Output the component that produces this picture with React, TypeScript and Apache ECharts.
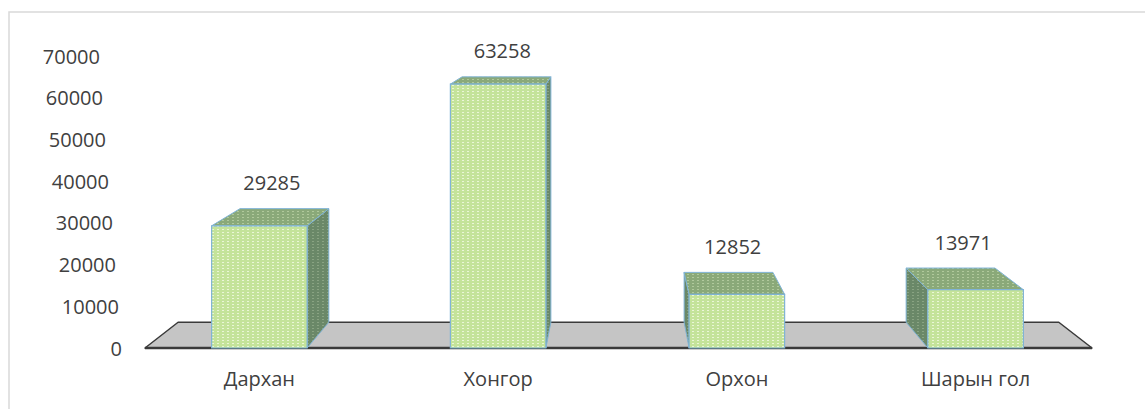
import React, { useEffect, useRef } from "react";
import * as echarts from "echarts";

const categories = ["Дархан", "Хонгор", "Орхон", "Шарын гол"];
const values = [29285, 63258, 12852, 13971];
const yTicks = [0, 10000, 20000, 30000, 40000, 50000, 60000, 70000];

const K = 0.07;
const VY = -20;
const FONT = "'Open Sans', sans-serif";
const TEXT = "#404040";

function makePattern(base: string, dot: string, w: number, h: number) {
  try {
    const c = document.createElement("canvas");
    c.width = w;
    c.height = h;
    const ctx = c.getContext("2d");
    if (!ctx) return base;
    ctx.fillStyle = base;
    ctx.fillRect(0, 0, w, h);
    ctx.fillStyle = dot;
    ctx.fillRect(2, 1, 2, 1);
    return { image: c, repeat: "repeat" } as any;
  } catch (e) {
    return base;
  }
}

export default function App() {
  const ref = useRef<HTMLDivElement>(null);
  useEffect(() => {
    if (!ref.current) return;
    const chart = echarts.init(ref.current, undefined, { renderer: "svg" });
    const frontFill = makePattern("#c4e39a", "#eaf6d6", 5, 3);
    const topFill = makePattern("#8aa979", "#b0c99c", 5, 3);
    const sideFill = makePattern("#6a8868", "#89a383", 5, 3);
    const rich: any = {};
    yTicks.forEach((t, i) => {
      rich["p" + i] = {
        fontSize: 20,
        fontFamily: FONT,
        color: TEXT,
        padding: [0, Math.round((22 * t) / 70000), 0, 0],
      };
    });

    const back = (p: number[], vx: number) => [p[0] + K * (vx - p[0]), p[1] + K * (VY - p[1])];

    chart.setOption({
      animation: false,
      grid: { left: 140, right: 50, top: 56, bottom: 61 },
      graphic: [
        {
          type: "rect",
          shape: { x: 9, y: 12, width: 1160, height: 420 },
          style: { fill: "none", stroke: "#d9d9d9", lineWidth: 1.5 },
          z: -10,
        },
      ],
      xAxis: {
        type: "category",
        data: categories,
        axisLine: { show: false },
        axisTick: { show: false },
        axisLabel: { fontSize: 20, fontFamily: FONT, color: TEXT, margin: 20 },
      },
      yAxis: {
        type: "value",
        min: 0,
        max: 70000,
        interval: 10000,
        splitLine: { show: false },
        axisLine: { show: false },
        axisTick: { show: false },
        axisLabel: {
          margin: 18,
          formatter: (v: number) => {
            const i = yTicks.indexOf(v);
            return `{p${i}|${v}}`;
          },
          rich,
        },
      },
      series: [
        {
          type: "custom",
          z: 1,
          data: [[0, 0]],
          encode: { x: 0, y: 1 },
          silent: true,
          renderItem: (params: any, api: any) => {
            const cs = params.coordSys;
            const vx = cs.x + cs.width / 2;
            const y0 = cs.y + cs.height;
            const fl = [cs.x + 5, y0];
            const fr = [cs.x + cs.width - 3, y0];
            const bl = back(fl, vx);
            const br = back(fr, vx);
            return {
              type: "group",
              children: [
                {
                  type: "polygon",
                  shape: { points: [fl, fr, br, bl] },
                  style: { fill: "#c5c5c5", stroke: "#3a3a3a", lineWidth: 1.5, lineJoin: "round" },
                },
                {
                  type: "line",
                  shape: { x1: fl[0], y1: fl[1], x2: fr[0], y2: fr[1] },
                  style: { stroke: "#3a3a3a", lineWidth: 2.5 },
                },
              ],
            };
          },
        },
        {
          type: "custom",
          z: 2,
          data: values.map((v, i) => [i, v]),
          encode: { x: 0, y: 1 },
          renderItem: (params: any, api: any) => {
            const cs = params.coordSys;
            const vx = cs.x + cs.width / 2;
            const idx = api.value(0);
            const v = api.value(1);
            const base = api.coord([idx, 0]);
            const top = api.coord([idx, v]);
            const hw = api.size([1, 0])[0] * 0.2;
            const FL = [base[0] - hw, base[1]];
            const FR = [base[0] + hw, base[1]];
            const TL = [base[0] - hw, top[1]];
            const TR = [base[0] + hw, top[1]];
            const bTL = back(TL, vx);
            const bTR = back(TR, vx);
            const bFL = back(FL, vx);
            const bFR = back(FR, vx);
            const edge = "#7fb3d6";
            const side =
              base[0] < vx
                ? [FR, TR, bTR, bFR]
                : [FL, TL, bTL, bFL];
            const lx = (TL[0] + TR[0] + bTL[0] + bTR[0]) / 4;
            const ly = Math.min(bTL[1], bTR[1]) - 26;
            return {
              type: "group",
              children: [
                {
                  type: "polygon",
                  shape: { points: side },
                  style: { fill: sideFill, stroke: edge, lineWidth: 1 },
                },
                {
                  type: "polygon",
                  shape: { points: [TL, TR, bTR, bTL] },
                  style: { fill: topFill, stroke: edge, lineWidth: 1 },
                },
                {
                  type: "polygon",
                  shape: { points: [FL, FR, TR, TL] },
                  style: { fill: frontFill, stroke: edge, lineWidth: 1.2 },
                },
                {
                  type: "text",
                  x: lx,
                  y: ly,
                  style: {
                    text: String(v),
                    fill: TEXT,
                    fontSize: 20,
                    fontFamily: FONT,
                    align: "center",
                    verticalAlign: "middle",
                  },
                },
              ],
            };
          },
        },
      ],
    });
    return () => chart.dispose();
  }, []);
  return (
    <div
      ref={ref}
      style={{ position: "fixed", left: 0, top: 0, width: 1145, height: 409, background: "#fff" }}
    />
  );
}
